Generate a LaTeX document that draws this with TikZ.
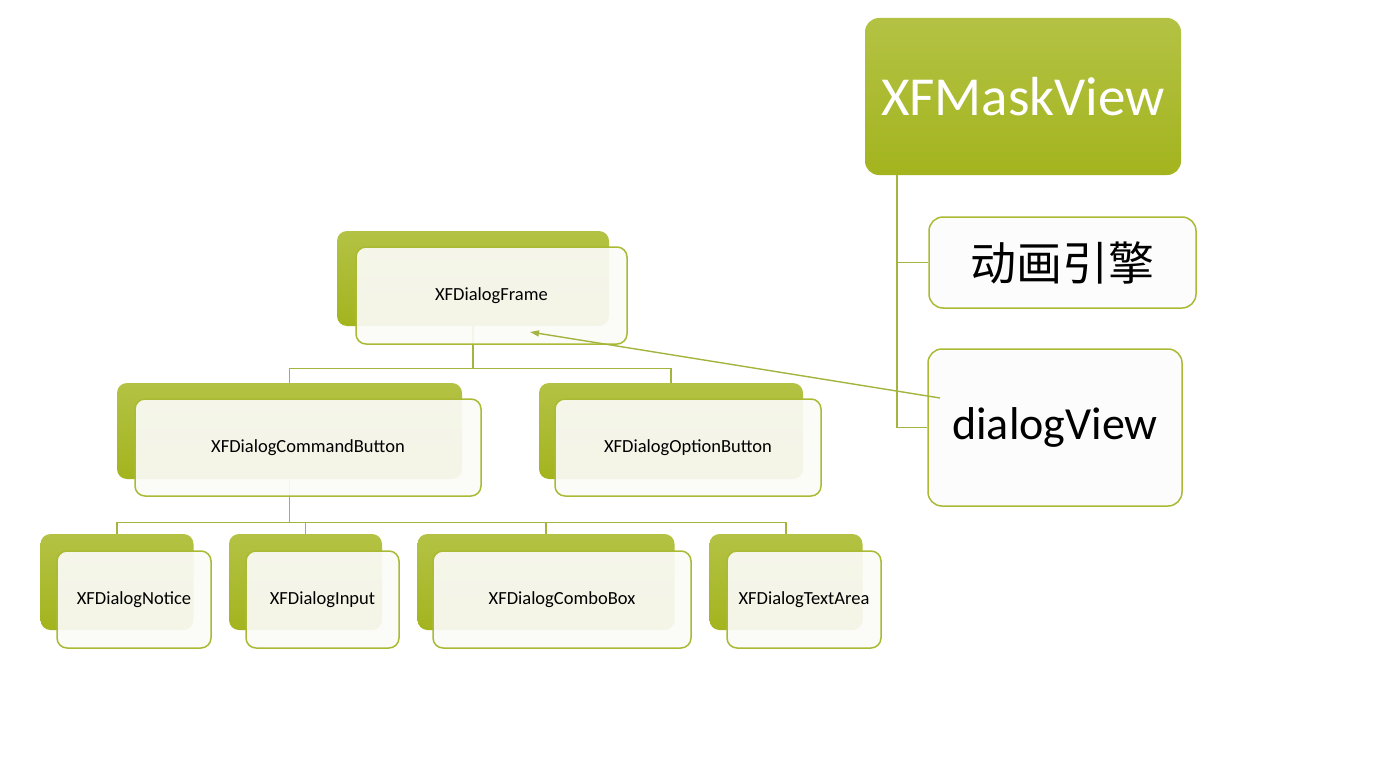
\documentclass[tikz,border=0pt]{standalone}
\usepackage{fontspec}
\setmainfont{Carlito}
\newfontfamily\cjkfont{Noto Sans CJK SC}
\usetikzlibrary{arrows.meta}
\definecolor{gtop}{RGB}{180,194,68}
\definecolor{gbot}{RGB}{163,180,30}
\definecolor{gborder}{RGB}{170,186,52}
\definecolor{gline}{RGB}{164,180,62}
\definecolor{frontfill}{RGB}{251,251,248}
\definecolor{boxfill}{RGB}{252,252,252}
\tikzset{
  backbox/.style={rounded corners=10pt, top color=gtop, bottom color=gbot, draw=none, inner sep=0pt},
  frontbox/.style={rounded corners=10pt, draw=gborder, line width=1.5pt, fill=frontfill, fill opacity=0.92, text opacity=1, inner sep=0pt, font=\fontsize{18.5}{21}\selectfont, text=black},
  conn/.style={draw=gline, line width=1.3pt},
  sidebox/.style={rounded corners=14pt, draw=gborder, line width=1.5pt, fill=boxfill, inner sep=0pt, text=black},
}
\begin{document}
\begin{tikzpicture}[x=1pt,y=-1pt]
\useasboundingbox (0,0) rectangle (1392,784);
\fill[white] (0,0) rectangle (1392,784);

% right side
\node[rounded corners=14pt, top color=gtop, bottom color=gbot, draw=none, minimum width=316pt, minimum height=157pt, text=white, font=\fontsize{55}{60}\selectfont] (mask) at (1023,96.5) {XFMaskView};
\node[sidebox, minimum width=267pt, minimum height=91pt, font=\cjkfont\fontsize{46}{50}\selectfont] (anim) at (1062.5,262.5) {动画引擎};
\node[sidebox, minimum width=254pt, minimum height=157pt, font=\fontsize{46}{50}\selectfont] (dv) at (1055,427.5) {dialogView};
\coordinate (trunk) at (897,175);
\draw[conn] (trunk) |- (anim.west);
\draw[conn] (trunk) |- (dv.west);

% back boxes
\node[backbox, minimum width=272pt, minimum height=95pt] (frameB) at (473,278.5) {};
\node[backbox, minimum width=345pt, minimum height=96pt] (cmdB) at (289.5,431) {};
\node[backbox, minimum width=264pt, minimum height=96pt] (optB) at (671,431) {};
\node[backbox, minimum width=153pt, minimum height=96pt] (notB) at (117,582) {};
\node[backbox, minimum width=153pt, minimum height=96pt] (inpB) at (305.5,582) {};
\node[backbox, minimum width=257pt, minimum height=96pt] (cmbB) at (546,582) {};
\node[backbox, minimum width=153pt, minimum height=96pt] (txtB) at (786,582) {};

% tree connectors
\draw[conn, line width=1.8pt] (frameB.south) -- ++(0,42) coordinate (j1);
\draw[conn] (j1) -| (cmdB.north);
\draw[conn] (j1) -| (optB.north);
\draw[conn] (cmdB.south) -- ++(0,43) coordinate (j2);
\draw[conn] (j2) -| (notB.north);
\draw[conn] (j2) -| (inpB.north);
\draw[conn] (j2) -| (cmbB.north);
\draw[conn] (j2) -| (txtB.north);

% front boxes
\node[frontbox, minimum width=271pt, minimum height=97pt] (frame) at (491.5,295.5) {XFDialogFrame};
\node[frontbox, minimum width=346pt, minimum height=97pt] (cmd) at (308,447.5) {XFDialogCommandButton};
\node[frontbox, minimum width=266pt, minimum height=97pt] (opt) at (688,447.5) {XFDialogOptionButton};
\node[frontbox, minimum width=154pt, minimum height=97pt] (notice) at (134,599.5) {XFDialogNotice};
\node[frontbox, minimum width=153pt, minimum height=97pt] (input) at (322.5,599.5) {XFDialogInput};
\node[frontbox, minimum width=258pt, minimum height=97pt] (combo) at (562,599.5) {XFDialogComboBox};
\node[frontbox, minimum width=154pt, minimum height=97pt] (textarea) at (804,599.5) {XFDialogTextArea};

% arrow
\coordinate (arrS) at (940,398);
\coordinate (arrE) at (530,332);
\draw[draw=gline, line width=1.4pt, -{Triangle[length=9pt,width=6pt]}] (arrS) -- (arrE);
\end{tikzpicture}
\end{document}
